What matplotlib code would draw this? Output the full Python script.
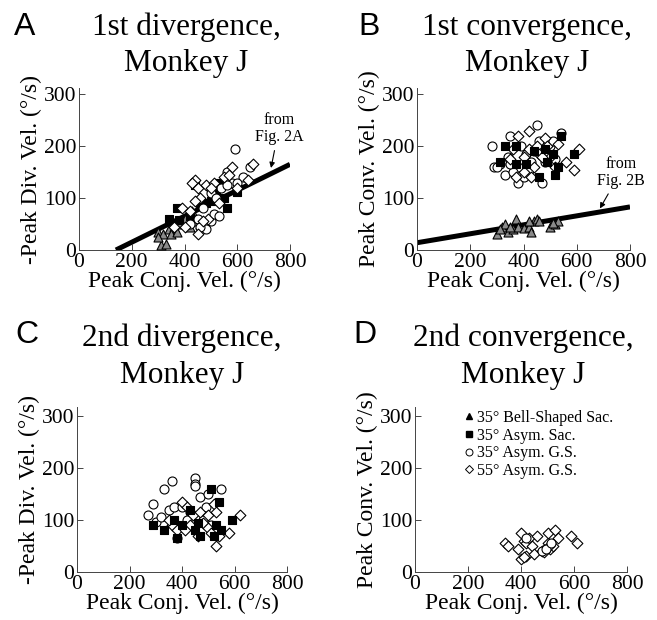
import matplotlib
matplotlib.use("Agg")
import matplotlib.pyplot as plt
from matplotlib.lines import Line2D

# ---------------- data (peak conjugate velocity, peak vergence velocity) -------------
# Panel A: 1st divergence
a_tri_x = [310, 330, 300, 320, 340, 360, 380, 400, 420, 440, 460, 350, 370, 430, 300]
a_tri_y = [10, 12, 35, 30, 40, 45, 50, 60, 45, 55, 50, 30, 35, 75, 25]
a_sq_x = [440, 370, 340, 460, 500, 520, 550, 560, 600, 530, 480, 420, 380]
a_sq_y = [125, 80, 60, 90, 95, 110, 100, 80, 112, 130, 90, 65, 58]
a_circ_x = [590, 560, 620, 650, 580, 480, 500, 510, 530, 450, 470, 600, 540, 500, 460, 420, 520, 560]
a_circ_y = [195, 150, 140, 160, 130, 40, 55, 70, 65, 60, 80, 130, 120, 110, 45, 50, 100, 125]
a_dia_x = [440, 430, 450, 480, 510, 550, 580, 660, 640, 450, 420, 390, 460, 490, 530, 470, 400, 360, 570, 500, 440, 600]
a_dia_y = [135, 130, 120, 125, 130, 140, 160, 165, 135, 30, 75, 80, 100, 60, 90, 55, 45, 45, 145, 120, 95, 120]
a_fit_x = [140, 800]
a_fit_y = [0, 165]

# Panel B: 1st convergence
b_tri_x = [300, 320, 330, 340, 370, 360, 380, 400, 420, 430, 440, 450, 460, 500, 520, 530, 310, 350, 420, 510]
b_tri_y = [30, 45, 50, 35, 60, 40, 45, 42, 45, 35, 55, 60, 55, 45, 50, 55, 40, 45, 55, 52]
b_sq_x = [330, 370, 310, 370, 460, 480, 510, 520, 530, 590, 540, 440, 490, 410]
b_sq_y = [200, 200, 170, 165, 140, 195, 185, 145, 160, 185, 220, 190, 170, 165]
b_circ_x = [280, 290, 310, 350, 340, 380, 400, 430, 450, 460, 380, 410, 470, 500, 520, 540, 330, 360, 420, 480, 440, 510, 350, 300, 390]
b_circ_y = [200, 160, 165, 220, 180, 130, 140, 170, 240, 210, 160, 185, 130, 200, 175, 225, 145, 150, 155, 170, 190, 210, 165, 160, 200]
b_dia_x = [380, 420, 370, 400, 450, 480, 500, 520, 560, 590, 610, 400, 440, 460, 360, 420, 490, 530, 470, 350, 430]
b_dia_y = [220, 230, 140, 180, 200, 215, 180, 160, 170, 155, 195, 150, 160, 185, 195, 195, 200, 205, 180, 175, 140]
b_fit_x = [0, 800]
b_fit_y = [14, 83]

# Panel C: 2nd divergence
c_sq_x = [290, 330, 370, 380, 400, 430, 460, 470, 510, 540, 530, 550, 590, 450, 520]
c_sq_y = [90, 80, 100, 65, 90, 120, 95, 70, 160, 135, 90, 80, 100, 80, 70]
c_circ_x = [270, 290, 300, 330, 360, 350, 370, 320, 450, 450, 450, 470, 500, 550, 430, 380, 480, 510, 420, 490, 400]
c_circ_y = [110, 130, 97, 160, 175, 120, 125, 105, 180, 170, 165, 145, 150, 160, 115, 65, 100, 90, 100, 125, 125]
c_dia_x = [360, 400, 420, 430, 440, 470, 480, 500, 510, 520, 530, 540, 580, 620, 380, 410, 460, 350, 500, 530]
c_dia_y = [90, 135, 125, 90, 110, 115, 95, 85, 75, 130, 50, 70, 75, 110, 80, 80, 70, 100, 110, 115]

# Panel D: 2nd convergence
d_circ_x = [420, 480, 495, 515]
d_circ_y = [65, 40, 45, 55]
d_dia_x = [340, 350, 390, 400, 400, 410, 420, 420, 430, 440, 450, 460, 480, 490, 500, 500, 510, 520, 530, 540, 590, 610, 410, 485, 505]
d_dia_y = [55, 50, 45, 25, 75, 60, 55, 30, 65, 50, 35, 70, 40, 45, 55, 75, 45, 50, 80, 65, 70, 55, 28, 38, 50]

legend_labels = ["35\u00b0 Bell-Shaped Sac.", "35\u00b0 Asym. Sac.",
                 "35\u00b0 Asym. G.S.", "55\u00b0 Asym. G.S."]
x_ticks = [0, 200, 400, 600, 800]
y_ticks = [0, 100, 200, 300]

# ---------------- style ----------------
W, H = 657, 620
SERIF = "Liberation Serif"
SANS = "Liberation Sans"

TRI = dict(marker="^", s=42, facecolor="#8a8a8a", edgecolor="black", linewidth=0.8)
SQ = dict(marker="s", s=38, facecolor="black", edgecolor="black", linewidth=0.8)
CIRC = dict(marker="o", s=42, facecolor="white", edgecolor="black", linewidth=0.8)
DIA = dict(marker="D", s=30, facecolor="white", edgecolor="black", linewidth=0.8)

fig = plt.figure(figsize=(W / 100, H / 100), dpi=100)


def px(x, y):
    return x / W, 1 - y / H


def make_axes(left, bottom, right, height, ylim_top, ylabel):
    l, b = px(left, bottom)
    r, _ = px(right, bottom)
    ax = fig.add_axes([l, b, r - l, height / H])
    ax.set_xlim(0, 800)
    ax.set_ylim(0, ylim_top)
    for side in ("top", "right"):
        ax.spines[side].set_visible(False)
    for side in ("left", "bottom"):
        ax.spines[side].set_linewidth(0.7)
        ax.spines[side].set_color("#444444")
    ax.set_xticks(x_ticks)
    ax.set_yticks(y_ticks)
    ax.tick_params(direction="in", length=4, width=0.7, color="#444444",
                   labelsize=15.5, pad=2)
    for lab in ax.get_xticklabels() + ax.get_yticklabels():
        lab.set_fontfamily(SERIF)
    ax.set_xlabel("Peak Conj. Vel. (\u00b0/s)", fontsize=17, family=SERIF, labelpad=-1)
    ax.set_ylabel(ylabel, fontsize=17, family=SERIF, labelpad=1)
    return ax


def titles(letter, lx, ly, line1, line2, cx, y1, y2):
    fig.text(*px(lx, ly), letter, fontsize=23, family=SANS, va="baseline", ha="left")
    fig.text(*px(cx, y1), line1, fontsize=22.5, family=SERIF, va="baseline", ha="center")
    fig.text(*px(cx, y2), line2, fontsize=22.5, family=SERIF, va="baseline", ha="center")


# ---------------- Panel A ----------------
axA = make_axes(79, 250, 290, 162, 312, "-Peak Div. Vel. (\u00b0/s)")
axA.plot(a_fit_x, a_fit_y, color="black", lw=3.6, solid_capstyle="butt", zorder=2)
axA.scatter(a_tri_x, a_tri_y, zorder=3, **TRI)
axA.scatter(a_sq_x, a_sq_y, zorder=3, **SQ)
axA.scatter(a_circ_x, a_circ_y, zorder=3, **CIRC)
axA.scatter(a_dia_x, a_dia_y, zorder=3, **DIA)
axA.annotate("from\nFig. 2A", xy=(728, 158), xytext=(758, 266), fontsize=11.5,
             family=SERIF, ha="center", va="top", linespacing=1.1,
             arrowprops=dict(arrowstyle="-|>", color="black", lw=0.8,
                             mutation_scale=8, shrinkA=2, shrinkB=0))
titles("A", 14, 35, "1st divergence,", "Monkey J", 186, 35, 71)

# ---------------- Panel B ----------------
axB = make_axes(417, 250, 630, 162, 312, "Peak Conv. Vel. (\u00b0/s)")
axB.plot(b_fit_x, b_fit_y, color="black", lw=3.6, solid_capstyle="butt", zorder=2)
axB.scatter(b_tri_x, b_tri_y, zorder=3, **TRI)
axB.scatter(b_circ_x, b_circ_y, zorder=3, **CIRC)
axB.scatter(b_dia_x, b_dia_y, zorder=3, **DIA)
axB.scatter(b_sq_x, b_sq_y, zorder=3, **SQ)
axB.annotate("from\nFig. 2B", xy=(687, 80), xytext=(765, 182), fontsize=11.5,
             family=SERIF, ha="center", va="top", linespacing=1.1,
             arrowprops=dict(arrowstyle="-|>", color="black", lw=0.8,
                             mutation_scale=8, shrinkA=2, shrinkB=0))
titles("B", 358, 35, "1st convergence,", "Monkey J", 527, 35, 71)

# ---------------- Panel C ----------------
axC = make_axes(77, 572, 287, 165, 317, "-Peak Div. Vel. (\u00b0/s)")
axC.scatter(c_circ_x, c_circ_y, zorder=3, **CIRC)
axC.scatter(c_dia_x, c_dia_y, zorder=3, **DIA)
axC.scatter(c_sq_x, c_sq_y, zorder=3, **SQ)
titles("C", 15, 343, "2nd divergence,", "Monkey J", 182, 346, 383)

# ---------------- Panel D ----------------
axD = make_axes(415, 572, 627, 165, 317, "Peak Conv. Vel. (\u00b0/s)")
axD.scatter(d_dia_x, d_dia_y, zorder=3, **DIA)
axD.scatter(d_circ_x, d_circ_y, zorder=3, **CIRC)
titles("D", 353, 343, "2nd convergence,", "Monkey J", 523, 346, 383)

handles = [
    Line2D([], [], ls="none", marker="^", ms=5, mfc="black", mec="black"),
    Line2D([], [], ls="none", marker="s", ms=5, mfc="black", mec="black"),
    Line2D([], [], ls="none", marker="o", ms=5, mfc="white", mec="black", mew=0.7),
    Line2D([], [], ls="none", marker="D", ms=4.5, mfc="white", mec="black", mew=0.7),
]
axD.legend(handles, legend_labels, loc="upper left", bbox_to_anchor=(0.2, 1.02),
           frameon=False, handlelength=0.6, handletextpad=0.25, labelspacing=0.1,
           borderaxespad=0, prop=dict(family=SERIF, size=11.5))

fig.savefig("out.png", dpi=100)
